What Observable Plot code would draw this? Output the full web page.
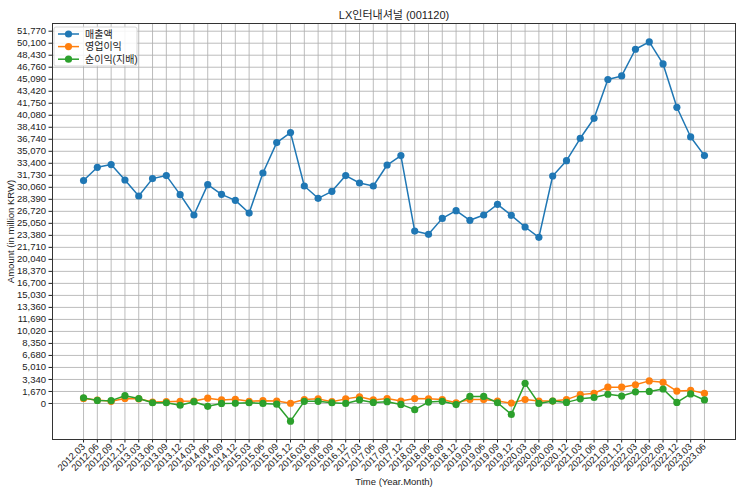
<!DOCTYPE html>
<html>
<head>
<meta charset="utf-8">
<script src="https://cdn.jsdelivr.net/npm/d3@7"></script>
<script src="https://cdn.jsdelivr.net/npm/@observablehq/plot@0.6"></script>
<style>
  body { margin: 0; background: white; }
  #chart { width: 743px; height: 495px; }
</style>
</head>
<body>
<div id="chart"></div>
<script>
const quarters = ["2012.03","2012.06","2012.09","2012.12","2013.03","2013.06","2013.09","2013.12",
  "2014.03","2014.06","2014.09","2014.12","2015.03","2015.06","2015.09","2015.12",
  "2016.03","2016.06","2016.09","2016.12","2017.03","2017.06","2017.09","2017.12",
  "2018.03","2018.06","2018.09","2018.12","2019.03","2019.06","2019.09","2019.12",
  "2020.03","2020.06","2020.09","2020.12","2021.03","2021.06","2021.09","2021.12",
  "2022.03","2022.06","2022.09","2022.12","2023.03","2023.06"];

const revenue = [31000,32840,33220,31080,28850,31270,31690,29040,
  26210,30430,29080,28250,26480,32050,36280,37670,
  30240,28530,29500,31690,30660,30240,33160,34470,
  23980,23520,25740,26810,25470,26210,27690,26160,
  24540,23100,31630,33770,36880,39660,45050,45550,
  49260,50280,47220,41190,37060,34470];

const opIncome = [700,480,300,690,650,200,250,300,
  340,740,490,590,300,390,340,30,
  540,640,250,640,930,490,690,330,
  690,640,540,100,540,540,340,50,
  540,340,340,540,1230,1420,2260,2260,
  2600,3140,2950,1720,1820,1420];

const netIncome = [780,420,390,1080,690,100,100,-250,
  250,-390,10,20,100,0,-100,-2460,
  300,300,100,0,490,150,250,-130,
  -860,200,300,-150,980,980,100,-1520,
  2800,0,340,150,640,830,1280,1030,
  1620,1670,2010,150,1330,490];

const yTicks = [0,1670,3340,5010,6680,8350,10020,11690,13360,15030,16700,18370,20040,21710,
  23380,25050,26720,28390,30060,31730,33400,35070,36740,38410,40080,41750,43420,45090,
  46760,48430,50100,51770];

const seriesNames = ["매출액","영업이익","순이익(지배)"];
const seriesColors = ["#1f77b4","#ff7f0e","#2ca02c"];
const seriesValues = [revenue, opIncome, netIncome];

const rows = seriesNames.map((name, s) =>
  quarters.map((q, i) => ({series: name, q, v: seriesValues[s][i]})));

const font = "'Liberation Sans', 'Noto Sans CJK KR', sans-serif";

const seriesMarks = rows.flatMap((data, s) => [
  Plot.line(data, {x: "q", y: "v", stroke: seriesColors[s], strokeWidth: 1.5}),
  Plot.dot(data, {x: "q", y: "v", fill: seriesColors[s], r: 3.6, stroke: "none"})
]);

const plot = Plot.plot({
  width: 743,
  height: 495,
  marginLeft: 52,
  marginRight: 8,
  marginTop: 23,
  marginBottom: 56,
  style: {fontFamily: font, fontSize: "10px", background: "white", color: "#222"},
  x: {type: "point", domain: quarters, padding: 2.25},
  y: {domain: [-5010, 52840]},
  marks: [
    Plot.gridX(quarters, {stroke: "#b0b0b0", strokeOpacity: 0.85, strokeWidth: 1}),
    Plot.gridY(yTicks, {stroke: "#b0b0b0", strokeOpacity: 0.85, strokeWidth: 1}),
    Plot.axisX(quarters, {tickRotate: -45, tickSize: 3.5, tickPadding: 2, fontSize: 9.5,
      label: "Time (Year.Month)", labelAnchor: "center", labelOffset: 45, labelArrow: "none"}),
    Plot.axisY(yTicks, {tickSize: 3.5, tickPadding: 3, fontSize: 9.5, tickFormat: d3.format(","),
      label: "Amount (in million KRW)", labelAnchor: "center", labelOffset: 45, labelArrow: "none"}),
    ...seriesMarks,
    Plot.frame({stroke: "#333", strokeWidth: 1}),
    Plot.text(["LX인터내셔널 (001120)"], {frameAnchor: "top", dy: -12, fontSize: 11, fill: "#222"})
  ]
});

document.getElementById("chart").appendChild(plot);

// Legend (top-left, inside the plot frame)
const svg = d3.select(plot);
const lg = svg.append("g").attr("transform", "translate(54,27)")
  .style("font-family", font).attr("text-anchor", "start");
lg.append("rect").attr("x", 0).attr("y", 0).attr("width", 83).attr("height", 39)
  .attr("rx", 2).attr("fill", "white").attr("fill-opacity", 0.85)
  .attr("stroke", "#d8d8d8");
seriesNames.forEach((name, i) => {
  const yy = 7 + i * 12.6;
  lg.append("line").attr("x1", 4).attr("x2", 25).attr("y1", yy).attr("y2", yy)
    .attr("stroke", seriesColors[i]).attr("stroke-width", 1.5);
  lg.append("circle").attr("cx", 14.5).attr("cy", yy).attr("r", 3.6).attr("fill", seriesColors[i]);
  lg.append("text").attr("x", 31).attr("y", yy).attr("dy", "0.35em")
    .attr("text-anchor", "start").attr("font-size", 10).attr("fill", "#222").text(name);
});
</script>
</body>
</html>
